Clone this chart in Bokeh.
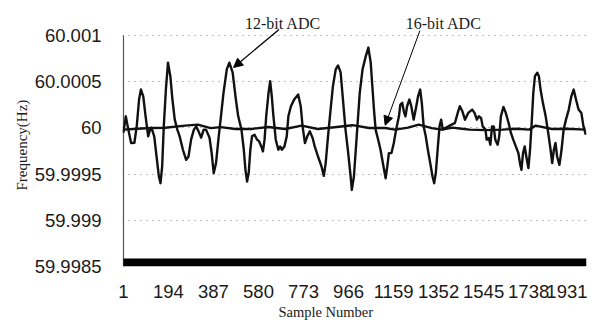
from bokeh.plotting import figure
from bokeh.models import (Range1d, FixedTicker, CustomJSTickFormatter, Label,
                          Arrow, NormalHead, Title)
from bokeh.embed import file_html
from bokeh.resources import INLINE

# ---------------- data ----------------
x_ticks = [1, 194, 387, 580, 773, 966, 1159, 1352, 1545, 1738, 1931]
y_ticks = [59.9985, 59.999, 59.9995, 60.0, 60.0005, 60.001]

samples_12 = [1, 11, 22, 34, 48, 58, 68, 76, 86, 96,
              107, 115, 121, 133, 143, 153, 160, 167, 174, 183,
              192, 202, 211, 221, 232, 242, 256, 270, 280, 291,
              303, 313, 323, 334, 345, 355, 370, 379, 388, 398,
              408, 419, 430, 444, 455, 469, 483, 493, 507, 517,
              524, 531, 538, 545, 552, 563, 574, 583, 592, 599,
              606, 613, 623, 630, 637, 644, 654, 665, 673, 680,
              691, 701, 708, 719, 733, 750, 761, 769, 779, 789,
              800, 812, 821, 835, 850, 860, 868, 878, 889, 899,
              911, 921, 932, 942, 953, 963, 975, 980, 989, 997,
              1004, 1014, 1026, 1040, 1051, 1061, 1068, 1075, 1082, 1093,
              1103, 1113, 1125, 1132, 1139, 1150, 1160, 1170, 1182, 1188,
              1196, 1203, 1210, 1217, 1227, 1235, 1245, 1255, 1264, 1273,
              1280, 1288, 1297, 1306, 1316, 1326, 1333, 1340, 1349, 1356,
              1363, 1370, 1380, 1394, 1408, 1422, 1434, 1443, 1454, 1465,
              1479, 1496, 1506, 1516, 1524, 1534, 1541, 1553, 1558, 1567,
              1574, 1581, 1588, 1595, 1605, 1612, 1619, 1630, 1640, 1652,
              1662, 1672, 1683, 1694, 1702, 1707, 1714, 1721, 1728, 1737,
              1744, 1751, 1758, 1765, 1775, 1782, 1789, 1799, 1811, 1822,
              1832, 1839, 1846, 1853, 1860, 1870, 1879, 1888, 1898, 1910,
              1921, 1931, 1941, 1952, 1964, 1973, 1983]

freq_12 = [59.99995, 60.000126, 59.999982, 59.999837, 59.99984, 60.000017, 60.000308, 60.000416, 60.000343, 60.000126,
           59.999909, 59.999982, 60.000003, 59.999909, 59.999691, 59.999474, 59.999402, 59.999583, 60.000017, 60.000416,
           60.000707, 60.000561, 60.000308, 60.00009, 59.999982, 59.999909, 59.999764, 59.999655, 59.999691, 59.999873,
           59.999982, 60.000017, 59.999963, 59.999895, 59.999982, 59.999982, 59.999895, 59.999732, 59.999511, 59.99962,
           59.999873, 60.000126, 60.00038, 60.000634, 60.000707, 60.000601, 60.000308, 60.000126, 59.999982, 59.999764,
           59.999547, 59.99942, 59.999514, 59.999764, 59.999909, 59.999927, 59.999873, 59.999854, 59.9998, 59.999746,
           59.999873, 60.000126, 60.00038, 60.000507, 60.000343, 60.000126, 59.999873, 59.999764, 59.9998, 59.999764,
           59.9998, 59.999909, 60.000126, 60.000235, 60.000308, 60.000362, 60.000235, 60.000017, 59.999837, 59.999909,
           59.999963, 59.999891, 59.9998, 59.999691, 59.999583, 59.999481, 59.99962, 59.999909, 60.000199, 60.000452,
           60.000634, 60.000677, 60.000601, 60.000308, 59.999982, 59.999764, 59.999474, 59.999329, 59.999474, 59.999764,
           60.000017, 60.00038, 60.000634, 60.000778, 60.00087, 60.000707, 60.000452, 60.000199, 59.999982, 59.999873,
           59.999764, 59.99962, 59.999456, 59.999583, 59.999728, 59.999728, 59.999837, 59.999982, 60.000126, 60.000253,
           60.000272, 60.00018, 60.000126, 60.000235, 60.000308, 60.000235, 60.00009, 60.000217, 60.000343, 60.000416,
           60.000272, 60.000017, 59.999909, 59.999764, 59.99962, 59.999474, 59.999402, 59.999511, 59.9998, 60.000017,
           60.00009, 59.999982, 60.0, 60.000017, 60.000036, 60.000054, 60.000163, 60.000235, 60.00018, 60.00009,
           60.000163, 60.000199, 60.000163, 60.00009, 60.000126, 60.000109, 60.000017, 59.999982, 59.999873, 59.999891,
           59.999818, 60.000017, 60.000017, 59.999873, 59.999818, 59.999909, 60.000126, 60.000228, 60.000163, 60.000054,
           59.999946, 59.999873, 59.9998, 59.999728, 59.999601, 59.999547, 59.999728, 59.9998, 59.999691, 59.999565,
           59.999764, 60.000054, 60.00038, 60.000561, 60.000598, 60.000561, 60.000416, 60.000272, 60.000126, 59.999946,
           59.999764, 59.99962, 59.999764, 59.999837, 59.999691, 59.999601, 59.999764, 59.999982, 60.00009, 60.000199,
           60.000343, 60.000416, 60.000308, 60.000199, 60.000163, 60.000017, 59.999927]

samples_16 = [1, 60, 120, 180, 265, 320, 375, 418, 481, 549, 622, 694, 765, 834, 906, 983, 1054,
              1123, 1166, 1221, 1267, 1323, 1366, 1412, 1451, 1485, 1553, 1625, 1689, 1740, 1768,
              1838, 1901, 1982]
freq_16 = [59.999982, 59.999992, 60.0, 60.000003, 60.000025, 60.000036, 59.999998, 60.000009,
           59.999989, 59.999989, 60.000011, 59.999989, 60.000025, 59.999989, 60.000007, 60.00003,
           60.0, 60.0, 59.999982, 60.000003, 60.000036, 59.999998, 59.999982, 60.000003, 59.999992,
           59.999982, 59.999976, 59.999982, 59.999992, 59.999982, 60.000025, 59.999989, 59.999992,
           59.999982]

n_samples = 1986
label_12 = "12-bit ADC"
label_16 = "16-bit ADC"
x_title = "Sample Number"
y_title = "Frequency(Hz)"

assert len(samples_12) == len(freq_12)
assert len(samples_16) == len(freq_16)

SANS = "Liberation Sans"
SERIF = "Liberation Serif"
INK = "#1a1a1a"

# the frame extends above the top tick so that the call-outs sit inside it
y_top = 60.00138
p = figure(width=587, height=320, output_backend="svg", toolbar_location=None,
           x_range=Range1d(-3, n_samples), y_range=Range1d(y_ticks[0], y_top),
           min_border_left=122, min_border_right=1, min_border_top=0, min_border_bottom=53)
p.outline_line_color = None
p.background_fill_color = "white"
p.border_fill_color = "white"

# grid: dotted horizontal lines only
p.xgrid.grid_line_color = None
p.ygrid.grid_line_color = "#7a7a7a"
p.ygrid.grid_line_dash = "1 5"
p.ygrid.grid_line_width = 1
p.ygrid.ticker = FixedTicker(ticks=y_ticks)

# y axis
p.yaxis.ticker = FixedTicker(ticks=y_ticks)
p.yaxis.formatter = CustomJSTickFormatter(code="return parseFloat(tick.toFixed(4)).toString();")
p.yaxis.major_tick_line_color = None
p.yaxis.minor_tick_line_color = None
p.yaxis.axis_line_color = None
p.yaxis.major_label_standoff = 15
p.yaxis.major_label_text_font = SANS
p.yaxis.major_label_text_font_size = "18.5px"
p.yaxis.major_label_text_color = INK

# x axis
p.xaxis.ticker = FixedTicker(ticks=x_ticks)
p.xaxis.major_tick_line_color = None
p.xaxis.minor_tick_line_color = None
p.xaxis.axis_line_color = None
p.xaxis.major_label_standoff = 12
p.xaxis.major_label_text_font = SANS
p.xaxis.major_label_text_font_size = "18.5px"
p.xaxis.major_label_text_color = INK

# value-axis line, only over the value range
p.segment(x0=[x_ticks[0]], y0=[y_ticks[0]], x1=[x_ticks[0]], y1=[y_ticks[-1]],
          line_color="#555555", line_width=1.3)

# dense category tick band along the bottom of the plot area
p.quad(left=[x_ticks[0]], right=[n_samples], bottom=[y_ticks[0]], top=[y_ticks[0] + 0.0000863],
       fill_color="black", line_color=None)

# series
p.line(samples_16, freq_16, line_color="#111111", line_width=2.4, line_join="round")
p.line(samples_12, freq_12, line_color="#111111", line_width=2.4, line_join="round")

# call-outs
p.add_layout(Label(x=685, y=60.00113, text=label_12, text_font=SERIF, text_font_size="16px",
                   text_align="center", text_baseline="middle", text_color=INK))
p.add_layout(Label(x=1374, y=60.00113, text=label_16, text_font=SERIF, text_font_size="16px",
                   text_align="center", text_baseline="middle", text_color=INK))
p.add_layout(Arrow(end=NormalHead(size=9, fill_color="black", line_color="black"),
                   x_start=668, y_start=60.001065, x_end=473, y_end=60.000655,
                   line_color="black", line_width=1.3))
p.add_layout(Arrow(end=NormalHead(size=9, fill_color="black", line_color="black"),
                   x_start=1272, y_start=60.001054, x_end=1123, y_end=60.00003,
                   line_color="black", line_width=1.0))

# axis titles (placed like the reference: not centred on the plot area)
p.add_layout(Title(text=y_title, text_font=SERIF, text_font_size="15px", text_font_style="normal",
                   text_color=INK, align="left", offset=76, standoff=4), "left")
p.add_layout(Title(text=x_title, text_font=SERIF, text_font_size="14.5px", text_font_style="normal",
                   text_color=INK, align="left", offset=156, standoff=2), "below")

open("out.html", "w").write(file_html(p, INLINE))
